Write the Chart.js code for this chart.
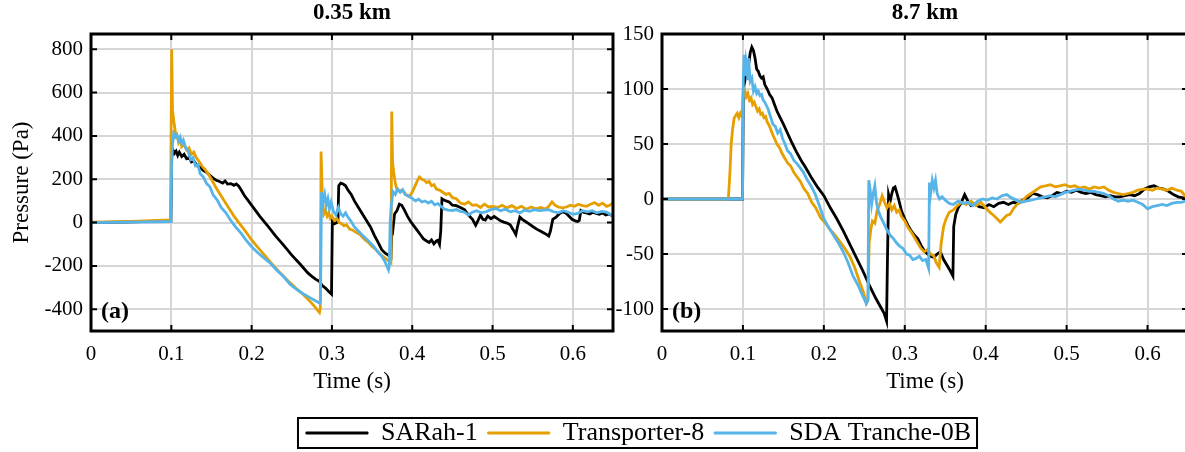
<!DOCTYPE html>
<html>
<head>
<meta charset="utf-8">
<script src="https://cdn.jsdelivr.net/npm/chart.js@4.4.1/dist/chart.umd.min.js"></script>
<style>
  html, body { margin: 0; padding: 0; background: #fff; overflow: hidden; }
  #wrap { position: relative; width: 1185px; height: 452px; overflow: hidden; }
  canvas { position: absolute; }
</style>
</head>
<body>
<div id="wrap">
  <canvas id="chartA" width="620" height="400" style="left:0;top:0"></canvas>
  <canvas id="chartB" width="592" height="400" style="left:600px;top:0"></canvas>
  <canvas id="legendBox" width="1185" height="200" style="left:46px;top:360px"></canvas>
</div>
<script>
// series names / colours
var seriesNames = ['SARah-1', 'Transporter-8', 'SDA Tranche-0B'];
var seriesColors = ['#000000', '#E69F00', '#56B4E9'];

// tick labels
var xTicks = [0, 0.1, 0.2, 0.3, 0.4, 0.5, 0.6];
var yTicksA = [-400, -200, 0, 200, 400, 600, 800];
var yTicksB = [-100, -50, 0, 50, 100, 150];

// (a) 0.35 km -- SARah-1
var tSarahA = [0, 0.05, 0.0995, 0.1005, 0.102, 0.104, 0.106, 0.108, 0.110, 0.113, 0.116, 0.119, 0.122, 0.125, 0.128, 0.132, 0.136, 0.140, 0.144, 0.148, 0.152, 0.156, 0.160, 0.164, 0.167, 0.170, 0.174, 0.178, 0.181, 0.184, 0.187, 0.191, 0.196, 0.202, 0.210, 0.220, 0.230, 0.240, 0.250, 0.260, 0.270, 0.275, 0.280, 0.284, 0.288, 0.292, 0.296, 0.2995, 0.3005, 0.303, 0.306, 0.3075, 0.3085, 0.311, 0.314, 0.317, 0.320, 0.324, 0.328, 0.333, 0.338, 0.343, 0.348, 0.353, 0.358, 0.362, 0.366, 0.370, 0.3735, 0.3745, 0.376, 0.378, 0.381, 0.384, 0.387, 0.390, 0.394, 0.398, 0.402, 0.406, 0.410, 0.414, 0.418, 0.421, 0.424, 0.427, 0.430, 0.432, 0.434, 0.4355, 0.437, 0.439, 0.442, 0.446, 0.450, 0.455, 0.460, 0.465, 0.470, 0.475, 0.479, 0.482, 0.485, 0.488, 0.491, 0.494, 0.498, 0.502, 0.506, 0.510, 0.514, 0.518, 0.522, 0.526, 0.529, 0.531, 0.534, 0.537, 0.541, 0.545, 0.550, 0.555, 0.560, 0.565, 0.570, 0.572, 0.575, 0.579, 0.583, 0.587, 0.591, 0.595, 0.599, 0.603, 0.606, 0.608, 0.610, 0.613, 0.617, 0.621, 0.625, 0.629, 0.633, 0.637, 0.641, 0.645, 0.650];
var pSarahA = [0, 3, 8, 300, 335, 320, 330, 310, 325, 305, 315, 295, 300, 280, 285, 262, 255, 240, 232, 218, 205, 195, 190, 182, 192, 178, 180, 172, 178, 168, 150, 125, 100, 70, 30, -15, -62, -105, -150, -190, -232, -248, -262, -270, -290, -302, -318, -330, 5, -5, 0, 8, 170, 182, 178, 170, 150, 130, 100, 70, 40, 10, -20, -60, -95, -125, -140, -150, -160, -10, -30, 40, 55, 85, 80, 60, 30, 5, -15, -35, -55, -75, -85, -92, -80, -98, -85, -82, -100, -40, 110, 105, 100, 95, 80, 78, 70, 60, 35, 15, -12, 10, 35, 15, 12, 30, 18, 28, 18, 8, 2, -2, -10, -35, -55, -20, 25, 15, 5, -5, -18, -30, -40, -50, -62, -40, 15, 25, 40, 50, 45, 30, 15, 8, 5, 10, 55, 48, 45, 40, 48, 42, 38, 45, 35, 40, 30];

// (a) 0.35 km -- Transporter-8
var tTransA = [0, 0.05, 0.099, 0.0995, 0.1005, 0.1015, 0.103, 0.105, 0.107, 0.109, 0.111, 0.113, 0.116, 0.119, 0.122, 0.125, 0.128, 0.131, 0.134, 0.138, 0.142, 0.146, 0.150, 0.155, 0.160, 0.166, 0.172, 0.178, 0.185, 0.192, 0.200, 0.208, 0.216, 0.224, 0.232, 0.240, 0.248, 0.256, 0.264, 0.272, 0.278, 0.2845, 0.2855, 0.2865, 0.288, 0.290, 0.292, 0.294, 0.296, 0.298, 0.300, 0.303, 0.306, 0.309, 0.312, 0.315, 0.318, 0.322, 0.326, 0.330, 0.335, 0.340, 0.345, 0.350, 0.355, 0.360, 0.365, 0.369, 0.372, 0.3735, 0.3745, 0.3755, 0.377, 0.379, 0.381, 0.384, 0.388, 0.392, 0.396, 0.400, 0.403, 0.406, 0.409, 0.412, 0.415, 0.418, 0.421, 0.424, 0.427, 0.430, 0.434, 0.438, 0.442, 0.446, 0.450, 0.455, 0.460, 0.465, 0.470, 0.475, 0.480, 0.485, 0.490, 0.495, 0.500, 0.506, 0.512, 0.518, 0.524, 0.530, 0.536, 0.542, 0.548, 0.554, 0.560, 0.566, 0.570, 0.574, 0.578, 0.582, 0.587, 0.592, 0.597, 0.602, 0.607, 0.612, 0.617, 0.622, 0.627, 0.632, 0.637, 0.642, 0.646, 0.650];
var pTransA = [2, 5, 12, 12, 800, 520, 470, 420, 405, 370, 385, 350, 360, 335, 345, 315, 325, 300, 285, 262, 245, 225, 200, 165, 135, 100, 65, 30, -5, -38, -80, -115, -150, -185, -218, -248, -278, -305, -330, -360, -385, -415, -395, 328, 120, 40, 55, 30, 45, 20, 30, 10, 20, 0, -5, -15, -10, -30, -35, -45, -55, -75, -90, -110, -125, -145, -160, -172, -180, -185, 512, 280, 230, 180, 150, 145, 150, 130, 120, 140, 165, 190, 210, 200, 195, 185, 190, 170, 175, 155, 150, 140, 130, 135, 115, 110, 90, 85, 95, 80, 82, 70, 85, 72, 75, 70, 80, 68, 78, 65, 75, 62, 72, 64, 70, 62, 75, 95, 80, 72, 68, 72, 80, 75, 85, 78, 75, 85, 92, 80, 90, 75, 80, 92];

// (a) 0.35 km -- SDA Tranche-0B
var tSdaA = [0, 0.05, 0.0995, 0.1005, 0.1015, 0.103, 0.105, 0.107, 0.109, 0.111, 0.113, 0.115, 0.118, 0.121, 0.124, 0.127, 0.130, 0.133, 0.136, 0.140, 0.144, 0.148, 0.152, 0.157, 0.162, 0.168, 0.174, 0.180, 0.187, 0.194, 0.201, 0.208, 0.216, 0.224, 0.232, 0.240, 0.248, 0.256, 0.264, 0.272, 0.280, 0.2848, 0.2858, 0.2870, 0.289, 0.291, 0.293, 0.295, 0.297, 0.299, 0.302, 0.305, 0.308, 0.311, 0.314, 0.317, 0.320, 0.324, 0.328, 0.332, 0.337, 0.342, 0.347, 0.352, 0.357, 0.362, 0.366, 0.3705, 0.3715, 0.3725, 0.374, 0.376, 0.379, 0.382, 0.385, 0.388, 0.391, 0.394, 0.397, 0.400, 0.404, 0.408, 0.412, 0.416, 0.420, 0.424, 0.428, 0.432, 0.436, 0.440, 0.445, 0.450, 0.455, 0.460, 0.465, 0.470, 0.475, 0.480, 0.486, 0.492, 0.498, 0.504, 0.510, 0.516, 0.522, 0.528, 0.534, 0.540, 0.546, 0.552, 0.558, 0.564, 0.570, 0.576, 0.582, 0.588, 0.594, 0.600, 0.606, 0.612, 0.618, 0.624, 0.630, 0.636, 0.642, 0.646, 0.650];
var pSdaA = [0, 2, 5, 280, 360, 410, 395, 405, 380, 395, 365, 380, 345, 330, 290, 300, 262, 268, 225, 210, 180, 165, 128, 105, 70, 45, 10, -20, -50, -85, -115, -140, -165, -190, -222, -250, -285, -308, -328, -345, -362, -372, -360, 140, 95, 130, 80, 110, 65, 95, 50, 35, 70, 40, 30, 45, 25, 5, -20, -35, -55, -72, -90, -110, -135, -155, -180, -218, -200, 0, 80, 143, 130, 155, 140, 152, 130, 125, 118, 112, 100, 108, 95, 100, 90, 98, 82, 88, 75, 62, 58, 55, 60, 52, 48, 35, 48, 55, 45, 50, 60, 65, 55, 62, 50, 55, 45, 58, 52, 60, 55, 58, 60, 50, 45, 55, 48, 38, 42, 55, 50, 55, 45, 52, 48, 40, 28];

// (b) 8.7 km -- SARah-1
var tSarahB = [0, 0.05, 0.0995, 0.1005, 0.103, 0.105, 0.107, 0.109, 0.111, 0.113, 0.115, 0.117, 0.119, 0.121, 0.123, 0.125, 0.127, 0.130, 0.133, 0.136, 0.139, 0.142, 0.146, 0.150, 0.155, 0.160, 0.166, 0.172, 0.178, 0.185, 0.192, 0.200, 0.208, 0.216, 0.224, 0.232, 0.240, 0.248, 0.256, 0.264, 0.270, 0.2745, 0.2775, 0.2785, 0.280, 0.282, 0.284, 0.286, 0.288, 0.290, 0.293, 0.296, 0.300, 0.304, 0.308, 0.312, 0.316, 0.320, 0.324, 0.328, 0.332, 0.336, 0.340, 0.344, 0.348, 0.352, 0.356, 0.3595, 0.3605, 0.363, 0.366, 0.370, 0.374, 0.378, 0.382, 0.387, 0.392, 0.398, 0.404, 0.410, 0.416, 0.422, 0.428, 0.434, 0.440, 0.446, 0.452, 0.458, 0.464, 0.470, 0.476, 0.482, 0.488, 0.494, 0.500, 0.506, 0.512, 0.518, 0.524, 0.530, 0.536, 0.542, 0.548, 0.554, 0.560, 0.566, 0.572, 0.578, 0.584, 0.590, 0.596, 0.602, 0.608, 0.614, 0.620, 0.626, 0.632, 0.638, 0.644, 0.650];
var pSarahB = [0, 0, 0, 100, 110, 125, 122, 133, 138, 135, 128, 118, 116, 112, 110, 111, 104, 100, 95, 92, 86, 80, 74, 68, 60, 52, 43, 35, 28, 19, 11, 3, -8, -18, -29, -41, -53, -65, -78, -90, -98, -104, -111, -60, 4, -2, 5, 10, 11, 6, -2, -11, -18, -24, -29, -33, -36, -42, -47, -50, -52, -53, -50, -48, -55, -60, -65, -70, -25, -14, -8, -3, 4, -2, -6, -5, -7, -8, -5, -7, -4, -3, -5, -3, -4, -1, 1, 5, 4, 2, 1, 3, 6, 5, 7, 6, 8, 6, 5, 6, 4, 3, 2, 3, 2, 2, 3, 4, 3, 5, 9, 11, 12, 10, 9, 7, 4, 2, 1, 1];

// (b) 8.7 km -- Transporter-8
var tTransB = [0, 0.05, 0.082, 0.084, 0.0855, 0.087, 0.089, 0.091, 0.093, 0.095, 0.097, 0.099, 0.1005, 0.102, 0.104, 0.106, 0.108, 0.110, 0.112, 0.114, 0.116, 0.118, 0.120, 0.122, 0.124, 0.126, 0.128, 0.130, 0.133, 0.136, 0.139, 0.142, 0.145, 0.148, 0.151, 0.155, 0.159, 0.163, 0.167, 0.171, 0.175, 0.180, 0.185, 0.190, 0.196, 0.202, 0.208, 0.214, 0.220, 0.226, 0.232, 0.238, 0.244, 0.249, 0.2525, 0.2545, 0.256, 0.258, 0.260, 0.263, 0.266, 0.269, 0.272, 0.275, 0.278, 0.281, 0.284, 0.287, 0.290, 0.293, 0.296, 0.300, 0.304, 0.308, 0.312, 0.316, 0.320, 0.324, 0.328, 0.332, 0.336, 0.339, 0.3425, 0.345, 0.348, 0.351, 0.355, 0.360, 0.365, 0.370, 0.376, 0.382, 0.388, 0.394, 0.400, 0.405, 0.410, 0.414, 0.418, 0.422, 0.426, 0.430, 0.435, 0.440, 0.445, 0.450, 0.456, 0.462, 0.468, 0.474, 0.480, 0.486, 0.492, 0.498, 0.504, 0.510, 0.516, 0.522, 0.528, 0.534, 0.540, 0.546, 0.552, 0.558, 0.564, 0.570, 0.576, 0.582, 0.588, 0.594, 0.600, 0.606, 0.612, 0.618, 0.624, 0.630, 0.636, 0.642, 0.646, 0.650];
var pTransB = [0, 0, 0, 25, 50, 62, 73, 76, 78, 74, 78, 75, 98, 100, 93, 96, 90, 92, 86, 88, 84, 80, 82, 77, 78, 74, 75, 70, 66, 60, 55, 50, 47, 42, 38, 33, 30, 24, 20, 16, 10, 5, -3, -8, -17, -22, -28, -33, -39, -45, -52, -62, -75, -85, -95, -92, -40, -28, -20, -22, -10, -5, 3, -3, -8, -4, -10, -6, -12, -10, -16, -20, -26, -30, -35, -40, -45, -48, -46, -50, -52, -58, -62, -40, -25, -18, -12, -10, -6, -3, -5, -2, -6, -3, -8, -12, -15, -18, -21, -18, -15, -14, -8, -4, -2, 2, 5, 8, 11, 12, 13, 11, 12, 13, 11, 12, 10, 11, 9, 11, 10, 11, 8, 6, 5, 4, 5, 6, 8, 9, 9, 8, 10, 9, 8, 10, 8, 7, 3, 5];

// (b) 8.7 km -- SDA Tranche-0B
var tSdaB = [0, 0.05, 0.0995, 0.1005, 0.1015, 0.103, 0.104, 0.105, 0.106, 0.107, 0.109, 0.111, 0.113, 0.115, 0.117, 0.119, 0.121, 0.123, 0.125, 0.127, 0.129, 0.131, 0.134, 0.137, 0.140, 0.143, 0.146, 0.149, 0.152, 0.155, 0.159, 0.163, 0.167, 0.171, 0.175, 0.179, 0.184, 0.189, 0.194, 0.200, 0.206, 0.212, 0.218, 0.224, 0.230, 0.236, 0.242, 0.248, 0.2525, 0.2545, 0.2555, 0.257, 0.259, 0.261, 0.263, 0.265, 0.267, 0.270, 0.274, 0.278, 0.282, 0.286, 0.290, 0.294, 0.298, 0.302, 0.306, 0.310, 0.314, 0.318, 0.322, 0.326, 0.3295, 0.3305, 0.332, 0.334, 0.336, 0.338, 0.340, 0.343, 0.346, 0.350, 0.355, 0.360, 0.366, 0.372, 0.378, 0.384, 0.390, 0.396, 0.402, 0.408, 0.414, 0.420, 0.426, 0.432, 0.438, 0.444, 0.450, 0.456, 0.462, 0.468, 0.474, 0.480, 0.486, 0.492, 0.498, 0.504, 0.510, 0.516, 0.522, 0.528, 0.534, 0.540, 0.546, 0.552, 0.558, 0.564, 0.570, 0.576, 0.582, 0.588, 0.594, 0.600, 0.606, 0.612, 0.618, 0.624, 0.630, 0.636, 0.642, 0.650];
var pSdaB = [0, 0, 0, 110, 131, 112, 125, 120, 108, 128, 107, 110, 98, 102, 96, 98, 94, 95, 90, 88, 85, 82, 75, 68, 66, 60, 63, 55, 50, 44, 41, 35, 32, 28, 24, 18, 12, 5, -5, -18, -26, -33, -40, -48, -58, -70, -78, -88, -95, -92, 17, 10, -5, 5, 12, -3, -10, -16, -22, -28, -33, -36, -40, -43, -45, -50, -51, -55, -54, -52, -56, -55, -63, 15, 5, 17, 10, 17, 5, 0, 2, -1, -4, -5, -2, -4, -3, -6, -2, 0, -1, 1, 0, 3, 4, 1, -1, -3, -2, -1, 0, 1, 2, 3, 2, 4, 6, 7, 8, 9, 8, 7, 7, 6, 5, 3, 0, -2, -1, -2, -1, -3, -5, -9, -7, -6, -5, -6, -4, -3, -3, -1];

var serifFont = '"Liberation Serif", "Times New Roman", serif';
Chart.defaults.font.family = serifFont;
Chart.defaults.color = '#000';

function pts(ts, vs) {
  return ts.map(function(t, i) { return { x: t, y: vs[i] }; });
}

function lineSets(groups) {
  return groups.map(function(g, i) {
    return {
      label: seriesNames[i],
      data: pts(g[0], g[1]),
      borderColor: seriesColors[i],
      backgroundColor: seriesColors[i],
      borderWidth: 2.8,
      pointRadius: 0,
      tension: 0,
      order: 3 - i
    };
  });
}

// box, inward ticks, title and panel tag
var framePlugin = {
  id: 'frame',
  afterDatasetsDraw: function(chart, args, opts) {
    var ctx = chart.ctx, a = chart.chartArea;
    var xs = chart.scales.x, ys = chart.scales.y;
    ctx.save();
    ctx.strokeStyle = '#000';
    ctx.lineWidth = 2;
    ctx.beginPath();
    xs.ticks.forEach(function(t) {
      var px = xs.getPixelForValue(t.value);
      ctx.moveTo(px, a.bottom); ctx.lineTo(px, a.bottom - 6);
      ctx.moveTo(px, a.top); ctx.lineTo(px, a.top + 6);
    });
    ys.ticks.forEach(function(t) {
      var py = ys.getPixelForValue(t.value);
      ctx.moveTo(a.left, py); ctx.lineTo(a.left + 6, py);
      ctx.moveTo(a.right, py); ctx.lineTo(a.right - 6, py);
    });
    ctx.stroke();
    ctx.lineWidth = 3;
    ctx.strokeRect(a.left, a.top, a.right - a.left, a.bottom - a.top);
    ctx.fillStyle = '#000';
    ctx.textBaseline = 'middle';
    ctx.textAlign = 'center';
    ctx.font = 'bold 23px ' + serifFont;
    ctx.fillText(opts.title, (a.left + a.right) / 2, 13);
    ctx.textAlign = 'left';
    ctx.font = 'bold 24px ' + serifFont;
    ctx.fillText(opts.tag, a.left + 10, a.bottom - 19);
    ctx.restore();
  }
};

function panelOptions(cfg) {
  return {
    responsive: false,
    animation: false,
    layout: { padding: { top: 34, right: cfg.padRight, left: 0, bottom: 0 } },
    plugins: {
      legend: { display: false },
      tooltip: { enabled: false },
      frame: { title: cfg.title, tag: cfg.tag }
    },
    scales: {
      x: {
        type: 'linear',
        min: 0,
        max: 0.65,
        afterBuildTicks: function(s) { s.ticks = xTicks.map(function(v) { return { value: v }; }); },
        afterFit: function(s) { s.height = 69; },
        ticks: {
          font: { size: 21 },
          padding: 11,
          maxRotation: 0,
          callback: function(v) { return v === 0 ? '0' : v.toFixed(1); }
        },
        grid: { color: '#d6d6d6', lineWidth: 2, drawTicks: false },
        border: { display: false },
        title: { display: true, text: 'Time (s)', font: { size: 23, lineHeight: 1 }, padding: { top: 0, bottom: 7 } }
      },
      y: {
        type: 'linear',
        min: cfg.yMin,
        max: cfg.yMax,
        afterBuildTicks: function(s) { s.ticks = cfg.yTicks.map(function(v) { return { value: v }; }); },
        afterFit: function(s) { s.width = cfg.yWidth; },
        ticks: {
          font: { size: 21 },
          padding: 8,
          callback: function(v) { return String(v); }
        },
        grid: { color: '#d6d6d6', lineWidth: 2, drawTicks: false },
        border: { display: false },
        title: { display: cfg.yTitle !== '', text: cfg.yTitle, font: { size: 23, lineHeight: 1 }, padding: { top: 10, bottom: 0 } }
      }
    }
  };
}

new Chart(document.getElementById('chartA'), {
  type: 'line',
  data: { datasets: lineSets([[tSarahA, pSarahA], [tTransA, pTransA], [tSdaA, pSdaA]]) },
  options: panelOptions({ title: '0.35 km', tag: '(a)', yMin: -500, yMax: 870, yTicks: yTicksA, yTitle: 'Pressure (Pa)', yWidth: 91, padRight: 7 }),
  plugins: [framePlugin]
});

new Chart(document.getElementById('chartB'), {
  type: 'line',
  data: { datasets: lineSets([[tSarahB, pSarahB], [tTransB, pTransB], [tSdaB, pSdaB]]) },
  options: panelOptions({ title: '8.7 km', tag: '(b)', yMin: -120, yMax: 150, yTicks: yTicksB, yTitle: '', yWidth: 62, padRight: 4 }),
  plugins: [framePlugin]
});

// shared legend in its own box
var legendFrame = {
  id: 'legendFrame',
  afterDraw: function(chart) {
    var boxes = chart.legend.legendHitBoxes;
    if (!boxes || !boxes.length) return;
    var left = Math.min.apply(null, boxes.map(function(b) { return b.left; })) - 8;
    var right = Math.max.apply(null, boxes.map(function(b) { return b.left + b.width; })) + 6;
    var top = boxes[0].top - 2;
    var bottom = boxes[0].top + boxes[0].height + 2;
    var ctx = chart.ctx;
    ctx.save();
    ctx.strokeStyle = '#000';
    ctx.lineWidth = 2;
    ctx.strokeRect(left, top, right - left, bottom - top);
    ctx.restore();
  }
};

new Chart(document.getElementById('legendBox'), {
  type: 'line',
  data: {
    datasets: seriesNames.map(function(n, i) {
      return { label: n, data: [], borderColor: seriesColors[i], backgroundColor: seriesColors[i], borderWidth: 1 };
    })
  },
  options: {
    responsive: false,
    animation: false,
    layout: { padding: { top: 50 } },
    scales: { x: { display: false }, y: { display: false } },
    plugins: {
      tooltip: { enabled: false },
      legend: {
        display: true,
        position: 'top',
        labels: { boxWidth: 62, boxHeight: 2, padding: 10, color: '#000', font: { size: 26 } }
      }
    }
  },
  plugins: [legendFrame]
});
</script>
</body>
</html>
